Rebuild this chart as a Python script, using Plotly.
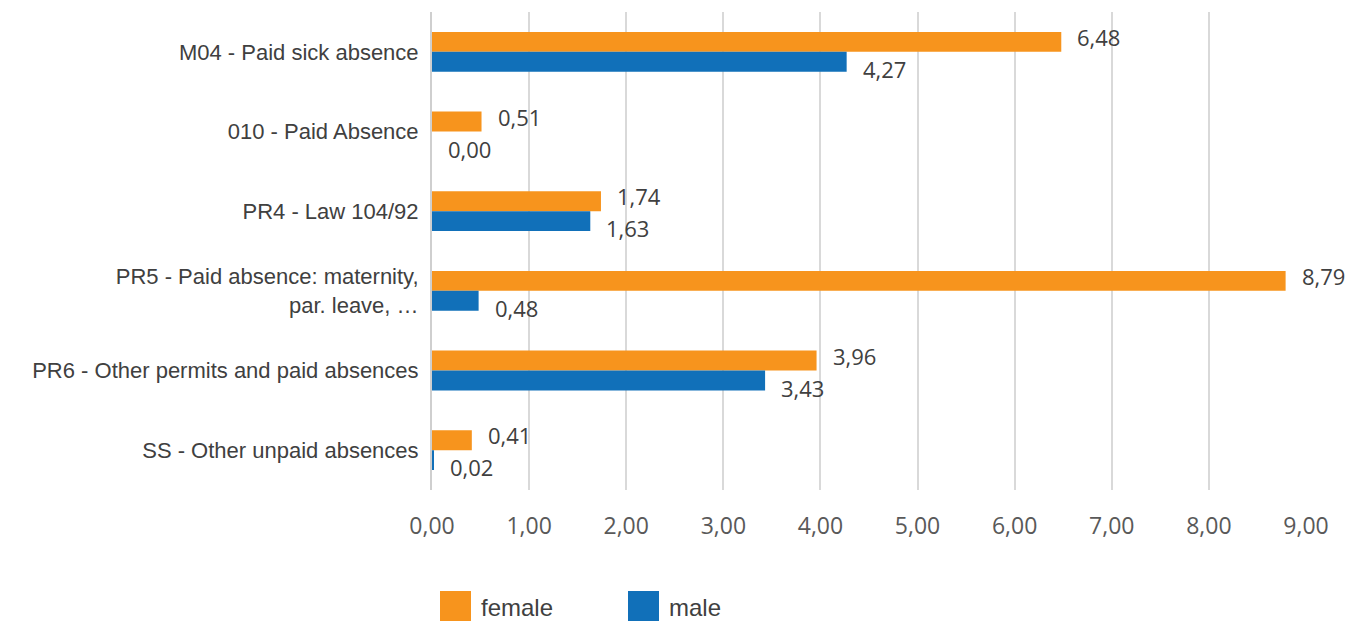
import plotly.graph_objects as go

categories = [
    "M04 - Paid sick absence",
    "010 - Paid Absence",
    "PR4 - Law 104/92",
    "PR5 - Paid absence: maternity,<br>par. leave, …",
    "PR6 - Other permits and paid absences",
    "SS - Other unpaid absences",
]
female = [6.48, 0.51, 1.74, 8.79, 3.96, 0.41]
male = [4.27, 0.00, 1.63, 0.48, 3.43, 0.02]
x_ticks = [0, 1, 2, 3, 4, 5, 6, 7, 8, 9]

ORANGE = "#F7941D"
BLUE = "#1170B9"
LABEL_FONT = dict(family="Open Sans", size=22, color="#404040")

fig = go.Figure()
fig.add_trace(go.Bar(
    y=categories, x=female, orientation="h", name="female",
    marker=dict(color=ORANGE, line=dict(width=0)), showlegend=False,
))
fig.add_trace(go.Bar(
    y=categories, x=male, orientation="h", name="male",
    marker=dict(color=BLUE, line=dict(width=0)), showlegend=False,
))

# Value labels just past the end of each bar: female above, male below
for series, anchor in ((female, "bottom"), (male, "top")):
    for cat, val in zip(categories, series):
        fig.add_annotation(
            x=val, y=cat, text=f"{val:.2f}".replace(".", ","),
            showarrow=False, xanchor="left", yanchor=anchor,
            xshift=15, yshift=-1, font=LABEL_FONT, borderpad=0,
        )

# Legend drawn as large swatches below the plot
W, H = 1364, 623
X0, X1, Y0, Y1 = 432, 1306, 12, 490


def px_x(p):
    return (p - X0) / (X1 - X0)


def px_y(p):
    return (Y1 - p) / (Y1 - Y0)


legend_items = [("female", ORANGE, 440), ("male", BLUE, 628)]
for label, color, px in legend_items:
    fig.add_shape(
        type="rect", xref="paper", yref="paper",
        x0=px_x(px), x1=px_x(px + 31), y0=px_y(621), y1=px_y(591),
        fillcolor=color, line=dict(width=0),
    )
    fig.add_annotation(
        xref="paper", yref="paper", x=px_x(px + 39), y=px_y(607),
        text=label, showarrow=False, xanchor="left", yanchor="middle",
        font=dict(family="Liberation Sans", size=24, color="#404040"),
    )

fig.update_layout(
    width=W, height=H,
    margin=dict(l=X0, r=W - X1, t=Y0, b=H - Y1),
    paper_bgcolor="white", plot_bgcolor="white",
    barmode="group", bargap=0.5, bargroupgap=0,
    separators=",.",
    showlegend=False,
    xaxis=dict(
        range=[0, 9], tickvals=x_ticks, tickformat=".2f",
        showgrid=True, gridcolor="#D9D9D9", gridwidth=2,
        zeroline=False, showline=False,
        tickfont=dict(family="Open Sans", size=23, color="#595959"),
        ticklabelstandoff=20,
    ),
    yaxis=dict(
        autorange="reversed",
        showline=True, linecolor="#CFCFCF", linewidth=2,
        showgrid=False,
        tickfont=dict(family="Liberation Sans", size=22, color="#404040"),
        ticklabelstandoff=7,
    ),
)

fig.write_html("out.html")
